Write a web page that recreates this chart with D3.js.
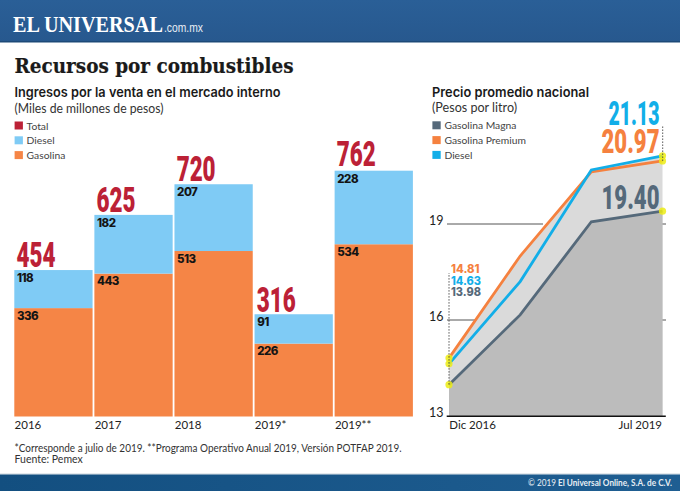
<!DOCTYPE html>
<html><head><meta charset="utf-8">
<script src="https://cdn.jsdelivr.net/npm/d3@7"></script>
<style>html,body{margin:0;padding:0;background:#fff}svg{display:block}text{font-family:Lato,sans-serif}</style>
</head><body><svg id="c" width="680" height="491"></svg>
<script>
const years=["2016","2017","2018","2019*","2019**"];
const gasolina=[336,443,513,226,534];
const diesel=[118,182,207,91,228];
const totals=[454,625,720,316,762];
const lineDates=["Dic 2016","Dic 2017","Dic 2018","Jul 2019"];
const magna=[13.98,16.16,19.07,19.40];
const premium=[14.81,18.0,20.63,20.97];
const dieselPrice=[14.63,17.2,20.69,21.13];
const priceTicks=[13,16,19];

const ORANGE="#f58546",BLUE="#7fcbf5",RED="#bc2136",INK="#1a1a1a",GREY="#55697a",LBLUE="#12aee8",LORANGE="#f5813f";
const BOLD="Inter,sans-serif";
const svg=d3.select("#c");
const defs=svg.append("defs");
const grad=defs.append("linearGradient").attr("id","hd").attr("x1",0).attr("x2",0).attr("y1",0).attr("y2",1);
grad.append("stop").attr("offset",0).attr("stop-color","#2a5f97");
grad.append("stop").attr("offset",1).attr("stop-color","#27588e");
const gf=defs.append("linearGradient").attr("id","ft").attr("x1",0).attr("x2",1).attr("y1",0).attr("y2",0);
gf.append("stop").attr("offset",0).attr("stop-color","#134f80");
gf.append("stop").attr("offset",1).attr("stop-color","#1f5e92");

svg.append("rect").attr("width",680).attr("height",42).attr("fill","url(#hd)");
svg.append("rect").attr("y",41).attr("width",680).attr("height",1.5).attr("fill","#1d4a78");
const brand=svg.append("text").attr("y",0).attr("font-size",23).attr("font-weight",700).attr("fill","#fff").style("font-family","'Liberation Serif',serif").text("EL UNIVERSAL");
brand.attr("transform",`translate(13,32) scale(${150/brand.node().getComputedTextLength()},1)`);
const dom=svg.append("text").attr("y",0).attr("font-size",12).attr("fill","#e8eef5").style("font-family","'Liberation Sans',sans-serif").text(".com.mx");
dom.attr("transform",`translate(164,32) scale(${39/dom.node().getComputedTextLength()},1)`);

svg.append("text").attr("x",14.5).attr("y",73.3).attr("font-size",20.5).attr("font-weight",700).attr("fill",INK).attr("stroke",INK).attr("stroke-width",0.2).style("font-family","'DejaVu Serif',serif").attr("textLength",279).attr("lengthAdjust","spacingAndGlyphs").text("Recursos por combustibles");
svg.append("text").attr("x",14.5).attr("y",97).attr("font-size",13.5).attr("font-weight",600).attr("fill",INK).style("font-family",BOLD).attr("textLength",266).attr("lengthAdjust","spacingAndGlyphs").text("Ingresos por la venta en el mercado interno");
svg.append("text").attr("x",14.5).attr("y",113).attr("font-size",12.5).attr("fill","#333").attr("textLength",149).attr("lengthAdjust","spacingAndGlyphs").text("(Miles de millones de pesos)");

function legend(items,x,y0,step){
  const g=svg.append("g").selectAll("g").data(items).join("g").attr("transform",(d,i)=>`translate(${x},${y0+i*step})`);
  g.append("rect").attr("width",8.3).attr("height",8).attr("y",-4).attr("fill",d=>d[1]);
  g.append("text").attr("x",12).attr("y",4).attr("font-size",10.3).attr("fill","#444").text(d=>d[0]);
}
legend([["Total",RED],["Diesel",BLUE],["Gasolina",ORANGE]],14.6,125.5,14.8);

// bars
const x=d3.scaleBand().domain(years).range([14.3,412.9]).paddingInner(0.0225).paddingOuter(0);
const y=d3.scaleLinear().domain([0,762]).range([416.5,170.7]);
const bars=svg.append("g").selectAll("g").data(years).join("g");
bars.append("rect").attr("x",d=>x(d)).attr("width",x.bandwidth()).attr("y",(d,i)=>y(gasolina[i])).attr("height",(d,i)=>y(0)-y(gasolina[i])).attr("fill",ORANGE);
bars.append("rect").attr("x",d=>x(d)).attr("width",x.bandwidth()).attr("y",(d,i)=>y(gasolina[i]+diesel[i])).attr("height",(d,i)=>y(0)-y(diesel[i])).attr("fill",BLUE);
const small=(sel,f)=>sel.append("text").attr("x",d=>x(d)+2.6).attr("y",(d,i)=>y(f(i))+11.8).attr("font-size",11.5).attr("font-weight",800).attr("fill","#141414").style("font-family",BOLD).attr("letter-spacing",-0.5).text((d,i)=>f(i)===gasolina[i]?gasolina[i]:diesel[i]);
small(bars,i=>gasolina[i]);
small(bars,i=>gasolina[i]+diesel[i]);
bars.append("text").attr("transform",(d,i)=>`translate(${x(d)+2.2},${y(totals[i])-(i===4?5:2.8)}) scale(0.64,1)`).attr("font-size",35).attr("font-weight",900).attr("fill",RED).style("font-family","Roboto,sans-serif").text((d,i)=>totals[i]);

const xAxis=d3.axisBottom(x).tickSize(0).tickPadding(0);
const gx=svg.append("g").attr("transform","translate(0,416.5)").call(xAxis);
gx.select(".domain").remove();
gx.selectAll("text").attr("text-anchor","start").attr("x",-x.bandwidth()/2+0.3).attr("y",12.5).attr("dy",0).attr("font-size",11.5).attr("fill","#222").style("font-family","Lato,sans-serif");

// lines
const lx=d3.scalePoint().domain(lineDates).range([449,662.5]);
const ly=d3.scaleLinear().domain([13,19]).range([416,224]);
const yAxis=d3.axisLeft(ly).tickValues(priceTicks).tickFormat(d3.format("d")).tickSize(0).tickPadding(0);
const area=(bottom)=>d3.area().x((d,i)=>lx(lineDates[i])).y0(bottom).y1(d=>ly(d));
const upper=premium.map((d,i)=>Math.max(d,dieselPrice[i]));
svg.append("path").datum(upper).attr("d",area(ly(13))).attr("fill","#dadada");
svg.append("path").datum(magna).attr("d",area(ly(13))).attr("fill","#bcbcbc");
// gridlines
priceTicks.slice(1).forEach(t=>{
  const gl=svg.append("g");
  gl.append("line").attr("x1",447).attr("x2",lx(lineDates[0])+(t===19?94:26)).attr("y1",ly(t)).attr("y2",ly(t)).attr("stroke","#555").attr("stroke-width",1);
  gl.append("line").attr("x1",662.5).attr("x2",666).attr("y1",ly(t)).attr("y2",ly(t)).attr("stroke","#555").attr("stroke-width",1);
});
const gy=svg.append("g").attr("transform","translate(443.5,0)").call(yAxis);
gy.select(".domain").remove();
gy.selectAll("text").attr("x",0).attr("dy",0).attr("y",0).attr("font-size",12.5).attr("fill","#222").style("font-family","Lato,sans-serif");
svg.append("line").attr("x1",446.7).attr("x2",665.8).attr("y1",416.3).attr("y2",416.3).attr("stroke","#111").attr("stroke-width",1.6);

const line=d3.line().x((d,i)=>lx(lineDates[i])).y(d=>ly(d));
[[magna,GREY],[premium,LORANGE],[dieselPrice,LBLUE]].forEach(([s,c])=>{
  svg.append("path").datum(s).attr("d",line).attr("fill","none").attr("stroke",c).attr("stroke-width",2.8);
});
// markers then leaders
[magna,premium,dieselPrice].forEach(s=>{
  [0,3].forEach(i=>{
    svg.append("circle").attr("cx",lx(lineDates[i])).attr("cy",ly(s[i])).attr("r",3.6).attr("fill","#ecec14").attr("fill-opacity",.85);
  });
});
svg.append("line").attr("x1",449).attr("x2",449).attr("y1",ly(magna[0])).attr("y2",273).attr("stroke","#444").attr("stroke-width",0.9).attr("stroke-dasharray","1.5,1.5");
svg.append("line").attr("x1",662.7).attr("x2",662.7).attr("y1",ly(premium[3])).attr("y2",125).attr("stroke","#444").attr("stroke-width",0.9).attr("stroke-dasharray","1.5,1.5");
// value labels
[[premium,LORANGE,272.7],[dieselPrice,LBLUE,284.7],[magna,GREY,296]].forEach(([s,c,yy])=>{
  svg.append("text").attr("x",451).attr("y",yy).attr("font-size",11.5).attr("font-weight",800).attr("fill",c).style("font-family",BOLD).attr("textLength",s===premium?28.5:30).attr("lengthAdjust","spacingAndGlyphs").text(s[0].toFixed(2));
});
[[dieselPrice,LBLUE,125,.59],[premium,LORANGE,153,.67],[magna,GREY,208.5,.67]].forEach(([s,c,yy,sx])=>{
  svg.append("text").attr("text-anchor","end").attr("transform",`translate(659.5,${yy}) scale(${sx},1)`).attr("font-size",33).attr("font-weight",900).attr("fill",c).style("font-family","Roboto,sans-serif").text(s[3].toFixed(2));
});
svg.append("text").attr("x",449.3).attr("y",429).attr("font-size",11.5).attr("fill","#222").text(lineDates[0]);
svg.append("text").attr("x",662).attr("y",429).attr("text-anchor","end").attr("font-size",11.5).attr("fill","#222").text(lineDates[3]);

svg.append("text").attr("x",432).attr("y",97).attr("font-size",13.5).attr("font-weight",600).attr("fill",INK).style("font-family",BOLD).attr("textLength",157).attr("lengthAdjust","spacingAndGlyphs").text("Precio promedio nacional");
svg.append("text").attr("x",432).attr("y",112).attr("font-size",12.5).attr("fill","#333").attr("textLength",85).attr("lengthAdjust","spacingAndGlyphs").text("(Pesos por litro)");
legend([["Gasolina Magna",GREY],["Gasolina Premium",LORANGE],["Diesel",LBLUE]],432.4,125.3,14.8);

// footnotes
svg.append("text").attr("x",14.5).attr("y",452).attr("font-size",10.5).attr("fill","#333").attr("textLength",387).attr("lengthAdjust","spacingAndGlyphs").text("*Corresponde a julio de 2019. **Programa Operativo Anual 2019, Versión POTFAP 2019.");
svg.append("text").attr("x",14.5).attr("y",463).attr("font-size",10.5).attr("fill","#333").text("Fuente: Pemex");

svg.append("rect").attr("y",473.5).attr("width",680).attr("height",1).attr("fill","#c9d3dc");
svg.append("rect").attr("y",474.5).attr("width",680).attr("height",16.5).attr("fill","url(#ft)");
const ft=svg.append("text").attr("x",528).attr("y",486).attr("font-size",8.8).attr("fill","#e6edf3").attr("textLength",144).attr("lengthAdjust","spacingAndGlyphs");
ft.append("tspan").text("© 2019 ");
ft.append("tspan").attr("font-weight",700).text("El Universal Online, S.A. de C.V.");
</script></body></html>
